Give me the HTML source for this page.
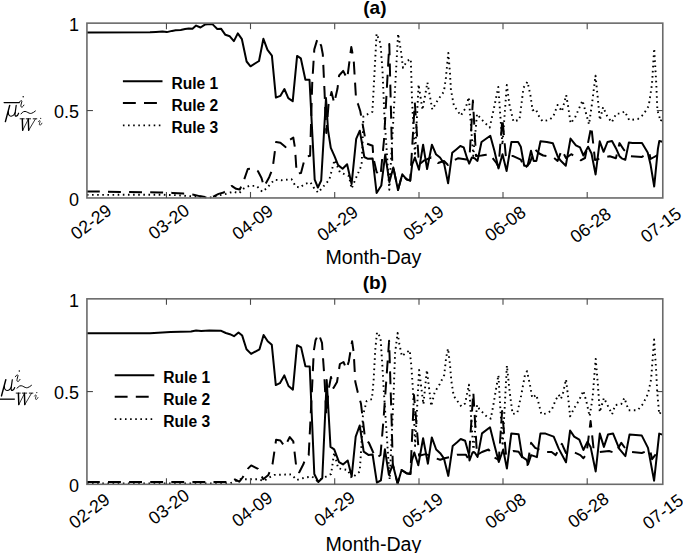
<!DOCTYPE html>
<html><head><meta charset="utf-8"><style>
html,body{margin:0;padding:0;background:#fff;}
body{width:683px;height:553px;overflow:hidden;}
svg{display:block;font-family:"Liberation Sans",sans-serif;}
</style></head><body>
<svg width="683" height="553" viewBox="0 0 683 553">
<rect width="683" height="553" fill="#fff"/>
<clipPath id="c0"><rect x="86.93" y="22.14" width="575.8499999999999" height="176.82"/></clipPath>
<g clip-path="url(#c0)" fill="none" stroke="#000" stroke-linejoin="round">
<polyline points="86.9,194.9 160.0,194.7 174.6,195.1 189.3,196.1 209.8,197.6 218.6,195.4 225.9,193.9 233.2,191.7 239.1,193.2 244.2,188.1 249.3,185.9 256.6,185.9 262.3,191.8 266.6,188.3 274.4,179.7 281.2,180.3 291.5,179.2 295.8,186.6 300.1,187.5 304.4,184.0 310.4,182.3 314.7,189.2 318.2,192.6 322.5,187.5 329.3,179.7 334.5,160.0 339.9,172.3 348.9,176.0 351.6,188.6 356.0,178.0 361.6,165.1 362.5,145.2 363.4,116.3 372.4,111.8 376.6,33.7 380.5,43.5 382.5,70.8 384.4,115.8 389.3,189.8 393.3,120.0 398.1,33.7 401.0,51.3 403.0,67.9 406.9,61.1 410.8,59.1 412.0,100.0 415.0,156.0 418.6,84.5 422.5,109.9 427.4,82.5 432.3,109.5 438.0,99.7 443.9,91.7 445.9,77.8 448.3,52.9 449.9,71.8 450.9,89.7 453.9,105.6 460.8,115.6 465.8,107.6 468.8,97.2 473.3,156.0 477.0,114.0 481.7,119.6 489.7,127.5 493.7,109.6 498.3,87.0 502.4,145.0 506.8,85.0 509.6,105.6 513.5,121.6 519.5,119.6 523.5,87.7 527.5,81.8 530.4,95.1 532.6,110.3 535.9,109.2 538.0,114.7 542.4,121.2 548.9,120.1 553.2,116.8 557.6,104.9 561.9,111.4 566.2,95.1 568.4,108.1 570.6,123.3 574.9,117.9 582.5,100.5 585.8,112.5 589.0,124.4 592.3,101.6 595.5,75.6 597.7,97.3 599.9,120.1 603.1,107.1 607.5,116.8 611.8,122.3 616.2,113.6 620.5,113.6 624.8,111.4 629.2,120.1 637.9,119.0 643.3,114.7 648.7,106.0 652.0,84.3 654.2,48.5 656.3,84.3 657.4,110.3 660.7,121.2 662.4,118.0" stroke-width="1.9" stroke-dasharray="1.6 3.53"/>
<polyline points="86.9,191.4 160.0,192.5 172.4,192.9 183.4,193.6 193.7,194.7 199.5,196.1 208.3,197.6 214.2,196.1 218.6,193.9 223.7,192.5 231.7,185.9 236.1,188.8 239.8,189.5 243.5,181.5 247.8,169.0 254.4,168.3 258.0,171.2 261.5,178.0 264.0,186.6 269.2,177.2 272.6,168.6 276.1,142.0 280.4,142.8 285.5,147.1 289.0,140.2 293.3,137.6 295.0,148.0 296.7,173.7 301.0,172.9 304.4,160.0 306.2,156.5 310.1,155.7 312.2,83.6 314.3,49.4 317.6,38.4 321.2,45.8 322.8,54.3 324.4,88.5 326.3,133.0 328.5,105.0 331.5,92.0 334.2,103.2 337.5,88.5 339.1,75.5 343.2,70.9 347.2,78.7 351.3,47.0 353.7,60.0 356.2,101.5 358.0,104.0 360.3,111.3 362.5,123.5 366.1,143.4 372.6,145.8 373.4,158.0 376.6,172.0 380.5,176.0 384.0,140.0 389.3,44.0 392.3,165.0 393.3,167.4 398.0,190.0 402.3,174.3 406.4,179.2 410.2,180.6 414.8,102.6 419.0,164.5 424.4,160.3 431.2,157.5 438.0,163.0 444.0,161.0 448.0,165.0 452.9,160.9 458.3,158.2 466.4,159.6 469.5,158.0 472.9,100.5 476.0,156.0 481.5,155.5 486.3,154.8 490.3,154.2 491.7,156.9 496.4,163.0 498.5,167.0 502.4,118.4 506.0,158.0 508.0,156.2 512.7,155.9 520.8,159.6 524.9,168.4 529.7,163.0 535.1,149.4 539.2,153.5 543.2,155.5 552.9,156.9 557.6,160.9 561.7,150.0 566.0,158.0 571.2,154.2 575.9,156.9 580.7,160.3 585.0,158.0 591.3,126.4 595.0,160.0 601.0,158.2 609.8,156.2 615.9,158.2 619.5,143.1 624.0,150.0 630.4,156.2 642.0,156.9 649.2,152.6 650.6,159.0 657.1,155.4 662.4,155.4" stroke-width="2" stroke-dasharray="12.9 8.2"/>
<polyline points="86.9,32.5 150.0,32.2 155.9,31.9 162.4,31.5 166.8,32.1 172.0,30.9 175.6,30.3 180.7,29.9 185.1,29.1 188.8,28.5 192.5,28.7 196.1,25.6 200.5,27.5 204.9,24.6 207.8,24.3 212.2,23.9 214.4,26.1 217.3,29.0 221.0,28.7 225.4,34.8 229.8,36.3 233.9,41.1 237.8,33.4 241.9,39.2 246.6,61.5 250.5,66.3 259.0,61.0 263.4,38.8 267.5,49.8 271.9,55.6 275.9,97.6 280.3,95.9 284.4,89.0 288.3,98.1 292.7,101.3 297.1,55.9 300.8,58.3 305.4,79.8 309.5,79.8 314.7,179.6 317.9,187.5 321.2,180.5 326.0,98.0 328.1,130.7 330.8,147.9 334.5,156.1 338.1,165.1 342.6,168.7 347.1,164.2 351.6,184.1 356.2,138.9 359.8,130.7 364.3,157.0 368.0,158.8 372.6,158.4 376.6,193.0 381.3,185.5 385.2,154.6 389.4,182.0 393.3,167.4 398.0,190.0 402.3,174.3 406.4,179.2 410.2,180.6 412.2,164.3 414.9,157.5 419.0,169.7 423.1,144.7 427.1,169.1 431.9,144.7 435.9,154.2 440.0,157.5 444.1,163.6 448.1,183.3 452.2,152.8 456.3,149.4 460.3,146.0 463.7,147.4 467.1,158.2 469.2,163.6 471.9,157.5 474.6,158.2 477.5,160.9 481.5,142.0 490.3,135.8 494.4,150.8 498.5,168.4 502.5,154.2 506.6,171.1 511.4,142.0 518.1,142.0 520.8,146.7 524.2,165.7 527.6,165.7 531.0,150.8 533.7,160.9 536.4,160.9 540.5,141.3 546.8,142.0 552.9,143.3 557.6,156.2 560.3,160.3 565.8,165.7 570.5,138.6 575.9,145.3 580.0,147.4 583.4,155.5 588.1,146.7 591.5,153.5 595.6,174.5 599.7,141.3 603.6,151.8 607.5,142.0 612.0,141.0 615.9,148.2 619.5,156.2 621.7,158.3 625.3,159.8 628.9,142.4 632.5,142.9 642.0,143.1 647.7,152.6 650.6,164.8 654.2,186.5 657.9,148.9 659.3,141.0 662.4,141.7" stroke-width="2"/>
</g>
<rect x="86.93" y="23.14" width="575.8499999999999" height="174.82" fill="none" stroke="#6a6a6a" stroke-width="1.6"/>
<line x1="166.45" y1="197.96" x2="166.45" y2="191.96" stroke="#4a4a4a" stroke-width="1.1"/>
<line x1="166.45" y1="23.14" x2="166.45" y2="29.14" stroke="#4a4a4a" stroke-width="1.1"/>
<line x1="250.5" y1="197.96" x2="250.5" y2="191.96" stroke="#4a4a4a" stroke-width="1.1"/>
<line x1="250.5" y1="23.14" x2="250.5" y2="29.14" stroke="#4a4a4a" stroke-width="1.1"/>
<line x1="334.7" y1="197.96" x2="334.7" y2="191.96" stroke="#4a4a4a" stroke-width="1.1"/>
<line x1="334.7" y1="23.14" x2="334.7" y2="29.14" stroke="#4a4a4a" stroke-width="1.1"/>
<line x1="419.0" y1="197.96" x2="419.0" y2="191.96" stroke="#4a4a4a" stroke-width="1.1"/>
<line x1="419.0" y1="23.14" x2="419.0" y2="29.14" stroke="#4a4a4a" stroke-width="1.1"/>
<line x1="503.0" y1="197.96" x2="503.0" y2="191.96" stroke="#4a4a4a" stroke-width="1.1"/>
<line x1="503.0" y1="23.14" x2="503.0" y2="29.14" stroke="#4a4a4a" stroke-width="1.1"/>
<line x1="587.2" y1="197.96" x2="587.2" y2="191.96" stroke="#4a4a4a" stroke-width="1.1"/>
<line x1="587.2" y1="23.14" x2="587.2" y2="29.14" stroke="#4a4a4a" stroke-width="1.1"/>
<line x1="86.93" y1="110.55000000000001" x2="92.93" y2="110.55000000000001" stroke="#4a4a4a" stroke-width="1.1"/>
<line x1="662.78" y1="110.55000000000001" x2="656.78" y2="110.55000000000001" stroke="#4a4a4a" stroke-width="1.1"/>
<text x="79" y="30.9" text-anchor="end" font-size="18">1</text>
<text x="79" y="118.4" text-anchor="end" font-size="18">0.5</text>
<text x="79" y="205.8" text-anchor="end" font-size="18">0</text>
<text transform="translate(94.65,226.75) rotate(-37)" text-anchor="middle" font-size="17.8">02-29</text>
<text transform="translate(172.40,226.45) rotate(-37)" text-anchor="middle" font-size="17.8">03-20</text>
<text transform="translate(256.25,227.15) rotate(-37)" text-anchor="middle" font-size="17.8">04-09</text>
<text transform="translate(341.25,228.25) rotate(-37)" text-anchor="middle" font-size="17.8">04-29</text>
<text transform="translate(427.10,227.80) rotate(-37)" text-anchor="middle" font-size="17.8">05-19</text>
<text transform="translate(508.95,228.45) rotate(-37)" text-anchor="middle" font-size="17.8">06-08</text>
<text transform="translate(594.25,230.15) rotate(-37)" text-anchor="middle" font-size="17.8">06-28</text>
<text transform="translate(664.55,229.90) rotate(-37)" text-anchor="middle" font-size="17.8">07-15</text>
<text x="373.4" y="264.3" text-anchor="middle" font-size="19.6">Month-Day</text>
<text x="374.9" y="13.7" text-anchor="middle" font-size="19" font-weight="bold">(a)</text>
<line x1="122.9" y1="81.34" x2="162.5" y2="81.34" stroke="#000" stroke-width="2"/>
<line x1="122.9" y1="103.04" x2="162.5" y2="103.04" stroke="#000" stroke-width="2" stroke-dasharray="12.9 8.2"/>
<line x1="122.9" y1="125.34" x2="162.5" y2="125.34" stroke="#000" stroke-width="1.9" stroke-dasharray="1.6 3.53"/>
<text x="171.5" y="89.0" font-size="15.6" font-weight="bold">Rule 1</text>
<text x="171.5" y="111.4" font-size="15.6" font-weight="bold">Rule 2</text>
<text x="171.5" y="132.7" font-size="15.6" font-weight="bold">Rule 3</text>
<g fill="none" stroke="#000" stroke-linecap="round"><path d="M4.1,102.55 L19.3,102.55" stroke-width="1.25"/><g transform="translate(0,0.00)"><path d="M9.7,105.4 L5.4,121.6" stroke-width="1.45"/><path d="M8.4,111.2 C8.0,114.6 9.3,116.3 11.1,116.2 C13.0,116.1 14.5,114.4 15.3,112.4" stroke-width="1.05"/><path d="M16.2,105.4 L15.0,113.8 C14.8,115.3 15.4,116.3 16.3,116.1 C17.3,115.9 18.1,114.8 18.6,113.2" stroke-width="1.2"/><path d="M19.3,102.4 C20.1,100.6 21.8,99.9 21.9,101.3 L20.9,105.2 C20.6,106.7 21.3,107.5 22.3,107.0 C23.0,106.6 23.5,105.9 23.9,105.1" stroke-width="0.95"/><circle cx="23.2" cy="96.7" r="0.75" fill="#000" stroke="none"/><path d="M21.0,113.9 C22.6,111.5 24.6,110.9 26.5,111.8 C28.3,112.7 29.9,113.9 31.6,113.3 C33.0,112.8 34.2,112.0 35.4,111.0" stroke-width="1.0"/><path d="M22.3,119.0 L22.7,130.3 M28.3,119.0 L28.7,130.3" stroke-width="1.45"/><path d="M22.7,130.3 L28.3,119.3 M28.7,130.3 L35.4,119.0" stroke-width="0.8"/><path d="M20.1,118.8 L24.2,118.8 M26.2,118.8 L30.6,118.8 M33.2,118.8 L36.8,118.8" stroke-width="0.9"/><path d="M38.3,121.7 C38.9,120.5 40.3,120.2 40.1,121.4 L39.4,123.8 C39.2,125.0 39.9,125.5 40.7,124.9 C41.2,124.5 41.6,123.9 41.9,123.2" stroke-width="0.8"/><circle cx="40.7" cy="118.3" r="0.6" fill="#000" stroke="none"/></g></g>
<clipPath id="c1"><rect x="86.93" y="297.84" width="575.8499999999999" height="187.46000000000004"/></clipPath>
<g clip-path="url(#c1)" fill="none" stroke="#000" stroke-linejoin="round">
<polyline points="86.9,483.4 230.0,483.4 240.0,479.2 246.9,479.2 257.2,479.2 264.0,480.9 269.2,477.5 274.4,474.9 291.5,474.4 296.7,480.0 305.3,477.5 312.2,476.6 317.3,480.9 324.2,477.5 331.1,474.0 334.2,452.5 338.2,468.4 347.7,470.0 351.7,478.0 359.7,471.6 361.3,447.7 362.9,415.9 366.7,400.9 371.9,399.2 373.6,380.3 375.3,349.4 377.0,332.2 380.5,337.3 382.2,363.1 383.9,392.3 389.7,479.6 393.4,400.0 395.1,352.8 397.6,333.0 399.4,344.2 401.9,356.2 406.2,352.8 409.7,350.2 411.4,366.5 413.1,392.3 415.1,446.0 419.1,370.0 423.4,404.3 426.9,370.0 431.2,406.0 434.7,392.1 439.5,384.6 444.2,375.1 446.1,358.0 448.0,348.5 449.9,363.7 451.3,380.8 453.7,395.9 461.3,406.4 465.1,403.5 468.9,384.6 473.5,452.0 477.0,405.0 479.4,409.2 487.0,416.8 490.8,418.7 493.6,403.5 498.4,375.1 502.6,446.0 506.9,365.6 509.7,392.1 512.6,414.0 517.3,413.0 521.1,395.9 524.9,375.1 527.0,371.2 530.1,385.6 532.2,397.9 536.3,394.8 538.3,402.0 541.4,414.3 547.5,413.3 551.6,410.2 555.7,399.9 558.8,394.8 560.9,398.9 562.9,393.8 566.0,379.4 568.0,395.8 570.1,416.3 574.2,408.1 579.3,399.9 583.4,390.7 586.5,402.0 589.6,416.3 592.6,397.9 595.7,358.9 597.8,383.5 599.8,412.2 603.9,397.9 609.0,408.1 612.1,414.3 615.2,405.1 621.3,404.0 624.4,397.9 628.5,410.2 637.7,410.2 642.9,404.0 648.0,393.8 651.1,379.4 654.1,339.5 656.2,371.2 657.2,391.7 659.2,414.3 662.4,410.0" stroke-width="1.9" stroke-dasharray="1.6 3.53"/>
<polyline points="86.9,482.0 230.0,482.0 234.9,479.5 239.3,481.7 242.6,477.5 247.7,468.9 251.2,465.4 258.0,468.9 263.2,479.2 268.4,474.9 272.6,463.7 276.1,439.7 280.4,440.5 284.7,446.5 289.8,437.1 293.3,441.4 296.7,470.6 299.3,472.3 303.6,463.7 306.2,456.0 308.7,455.1 312.2,385.1 313.8,350.9 315.5,340.3 318.7,333.8 322.0,342.8 322.8,355.0 324.4,377.0 326.3,415.0 328.5,390.0 331.0,377.0 333.5,388.0 337.0,382.0 339.9,364.0 343.5,362.0 346.4,369.0 348.8,361.5 352.1,341.2 353.7,352.6 355.3,381.8 357.8,392.4 361.0,403.8 365.0,438.2 369.0,443.0 373.0,452.0 376.5,458.0 380.5,455.0 383.5,420.0 389.1,340.8 391.6,420.0 392.8,464.4 397.6,483.5 401.6,470.0 406.4,473.2 410.4,474.0 414.0,395.0 419.1,455.7 425.5,454.1 430.2,455.7 435.9,458.3 440.2,459.8 444.6,458.3 450.0,457.0 457.1,454.7 465.9,454.7 468.8,459.8 473.3,392.1 477.0,455.0 482.0,452.0 488.6,449.5 494.4,457.6 498.8,459.8 502.1,411.1 506.0,455.0 513.5,451.0 518.6,451.7 523.7,459.8 527.4,464.9 531.1,442.8 535.2,447.9 545.5,452.0 551.6,452.0 555.7,455.1 561.9,443.8 566.0,453.0 571.1,451.0 580.3,455.1 583.4,458.2 586.5,454.1 590.6,421.0 593.7,450.0 599.8,452.0 609.0,451.0 615.2,453.0 621.3,442.8 625.0,448.0 631.6,452.0 641.8,453.0 650.0,450.0 652.1,459.2 658.2,451.0 662.4,452.0" stroke-width="2" stroke-dasharray="12.9 8.2"/>
<polyline points="86.9,333.2 150.0,333.2 170.5,332.1 191.0,331.5 196.1,330.5 201.2,331.1 209.4,330.5 220.7,330.7 225.8,333.0 229.9,334.2 234.0,336.2 238.5,332.5 242.2,335.6 246.5,349.3 251.1,353.9 259.5,349.3 263.6,335.0 267.7,341.2 271.8,344.8 275.8,385.1 279.9,383.2 284.3,375.4 288.5,386.0 292.9,389.7 297.0,345.2 301.1,347.4 305.4,366.2 309.7,366.4 314.3,474.0 318.3,482.0 322.3,478.0 326.7,380.0 330.5,446.9 334.2,449.3 339.0,462.1 343.0,464.4 347.7,460.5 351.7,476.4 355.7,436.6 359.7,425.5 363.7,451.7 368.4,454.9 372.6,454.5 376.9,482.7 380.9,480.4 384.9,449.3 388.9,474.8 392.8,464.4 397.6,483.5 401.6,470.0 406.4,473.2 410.4,474.0 411.9,460.5 414.3,452.5 418.3,465.2 423.1,438.2 427.9,463.7 431.8,437.4 436.2,449.5 440.2,453.2 443.9,458.3 448.3,475.9 452.7,445.9 457.1,442.2 460.7,439.0 465.1,440.7 468.8,453.9 469.5,460.5 472.5,452.5 474.7,452.5 477.6,456.9 482.0,433.4 490.0,427.3 494.4,445.1 498.8,462.0 503.2,449.5 506.9,468.6 511.3,433.4 518.6,434.2 522.2,456.9 526.6,459.8 528.1,464.3 531.1,455.1 534.2,456.1 536.9,457.1 540.4,433.6 545.5,433.6 553.7,436.6 558.8,448.9 566.0,462.3 570.1,430.5 574.2,436.6 579.3,439.7 583.4,450.0 587.5,441.8 590.6,446.9 595.7,471.5 599.8,433.6 603.9,446.9 608.0,434.6 613.1,433.6 619.3,448.9 625.4,456.1 629.5,434.6 641.8,435.6 648.0,447.9 654.1,480.7 659.2,433.6 662.4,434.6" stroke-width="2"/>
</g>
<rect x="86.93" y="298.84" width="575.8499999999999" height="185.46000000000004" fill="none" stroke="#6a6a6a" stroke-width="1.6"/>
<line x1="166.45" y1="484.3" x2="166.45" y2="478.3" stroke="#4a4a4a" stroke-width="1.1"/>
<line x1="166.45" y1="298.84" x2="166.45" y2="304.84" stroke="#4a4a4a" stroke-width="1.1"/>
<line x1="250.5" y1="484.3" x2="250.5" y2="478.3" stroke="#4a4a4a" stroke-width="1.1"/>
<line x1="250.5" y1="298.84" x2="250.5" y2="304.84" stroke="#4a4a4a" stroke-width="1.1"/>
<line x1="334.7" y1="484.3" x2="334.7" y2="478.3" stroke="#4a4a4a" stroke-width="1.1"/>
<line x1="334.7" y1="298.84" x2="334.7" y2="304.84" stroke="#4a4a4a" stroke-width="1.1"/>
<line x1="419.0" y1="484.3" x2="419.0" y2="478.3" stroke="#4a4a4a" stroke-width="1.1"/>
<line x1="419.0" y1="298.84" x2="419.0" y2="304.84" stroke="#4a4a4a" stroke-width="1.1"/>
<line x1="503.0" y1="484.3" x2="503.0" y2="478.3" stroke="#4a4a4a" stroke-width="1.1"/>
<line x1="503.0" y1="298.84" x2="503.0" y2="304.84" stroke="#4a4a4a" stroke-width="1.1"/>
<line x1="587.2" y1="484.3" x2="587.2" y2="478.3" stroke="#4a4a4a" stroke-width="1.1"/>
<line x1="587.2" y1="298.84" x2="587.2" y2="304.84" stroke="#4a4a4a" stroke-width="1.1"/>
<line x1="86.93" y1="391.57" x2="92.93" y2="391.57" stroke="#4a4a4a" stroke-width="1.1"/>
<line x1="662.78" y1="391.57" x2="656.78" y2="391.57" stroke="#4a4a4a" stroke-width="1.1"/>
<text x="79" y="306.6" text-anchor="end" font-size="18">1</text>
<text x="79" y="399.4" text-anchor="end" font-size="18">0.5</text>
<text x="79" y="492.1" text-anchor="end" font-size="18">0</text>
<text transform="translate(92.95,515.70) rotate(-37)" text-anchor="middle" font-size="17.8">02-29</text>
<text transform="translate(172.40,511.45) rotate(-37)" text-anchor="middle" font-size="17.8">03-20</text>
<text transform="translate(255.85,514.00) rotate(-37)" text-anchor="middle" font-size="17.8">04-09</text>
<text transform="translate(338.25,513.80) rotate(-37)" text-anchor="middle" font-size="17.8">04-29</text>
<text transform="translate(426.25,515.25) rotate(-37)" text-anchor="middle" font-size="17.8">05-19</text>
<text transform="translate(509.20,515.70) rotate(-37)" text-anchor="middle" font-size="17.8">06-08</text>
<text transform="translate(591.95,515.05) rotate(-37)" text-anchor="middle" font-size="17.8">06-28</text>
<text transform="translate(666.60,516.55) rotate(-37)" text-anchor="middle" font-size="17.8">07-15</text>
<text x="373.4" y="550.6" text-anchor="middle" font-size="19.6">Month-Day</text>
<text x="374.9" y="289.4" text-anchor="middle" font-size="19" font-weight="bold">(b)</text>
<line x1="114.7" y1="375.14" x2="154.3" y2="375.14" stroke="#000" stroke-width="2"/>
<line x1="114.7" y1="396.84000000000003" x2="154.3" y2="396.84000000000003" stroke="#000" stroke-width="2" stroke-dasharray="12.9 8.2"/>
<line x1="114.7" y1="419.14" x2="154.3" y2="419.14" stroke="#000" stroke-width="1.9" stroke-dasharray="1.6 3.53"/>
<text x="163.3" y="382.8" font-size="15.6" font-weight="bold">Rule 1</text>
<text x="163.3" y="405.2" font-size="15.6" font-weight="bold">Rule 2</text>
<text x="163.3" y="426.5" font-size="15.6" font-weight="bold">Rule 3</text>
<g fill="none" stroke="#000" stroke-linecap="round"><g transform="translate(-3.9,274.32)"><path d="M9.7,105.4 L5.4,121.6" stroke-width="1.45"/><path d="M8.4,111.2 C8.0,114.6 9.3,116.3 11.1,116.2 C13.0,116.1 14.5,114.4 15.3,112.4" stroke-width="1.05"/><path d="M16.2,105.4 L15.0,113.8 C14.8,115.3 15.4,116.3 16.3,116.1 C17.3,115.9 18.1,114.8 18.6,113.2" stroke-width="1.2"/><path d="M19.3,102.4 C20.1,100.6 21.8,99.9 21.9,101.3 L20.9,105.2 C20.6,106.7 21.3,107.5 22.3,107.0 C23.0,106.6 23.5,105.9 23.9,105.1" stroke-width="0.95"/><circle cx="23.2" cy="96.7" r="0.75" fill="#000" stroke="none"/><path d="M21.0,113.9 C22.6,111.5 24.6,110.9 26.5,111.8 C28.3,112.7 29.9,113.9 31.6,113.3 C33.0,112.8 34.2,112.0 35.4,111.0" stroke-width="1.0"/><path d="M22.3,119.0 L22.7,130.3 M28.3,119.0 L28.7,130.3" stroke-width="1.45"/><path d="M22.7,130.3 L28.3,119.3 M28.7,130.3 L35.4,119.0" stroke-width="0.8"/><path d="M20.1,118.8 L24.2,118.8 M26.2,118.8 L30.6,118.8 M33.2,118.8 L36.8,118.8" stroke-width="0.9"/><path d="M38.3,121.7 C38.9,120.5 40.3,120.2 40.1,121.4 L39.4,123.8 C39.2,125.0 39.9,125.5 40.7,124.9 C41.2,124.5 41.6,123.9 41.9,123.2" stroke-width="0.8"/><circle cx="40.7" cy="118.3" r="0.6" fill="#000" stroke="none"/></g><path d="M0,399.17 L14.8,399.17" stroke-width="1.3" stroke-linecap="butt"/></g>
</svg>
</body></html>
